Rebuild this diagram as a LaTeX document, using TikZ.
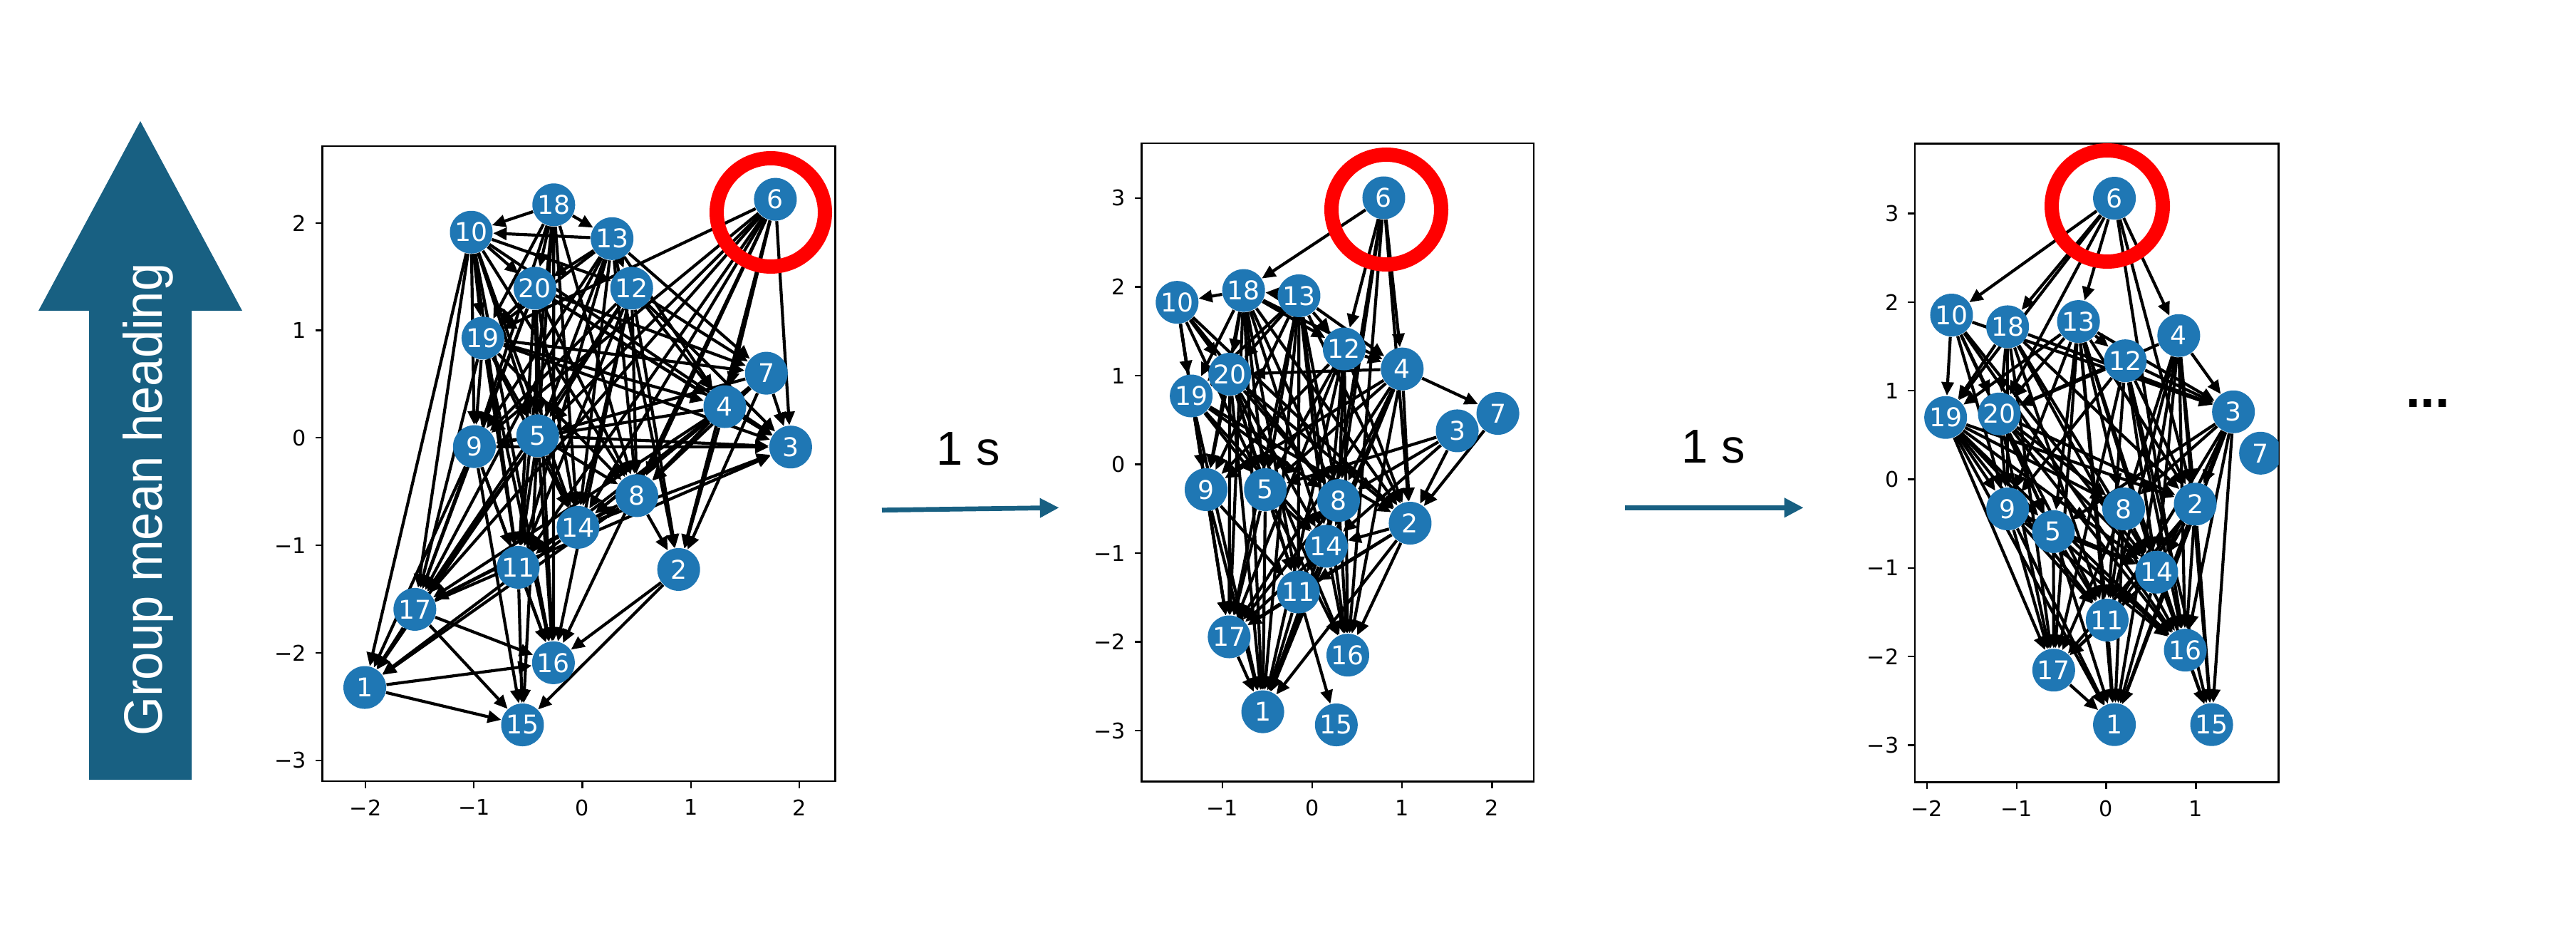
\documentclass[tikz,border=0pt]{standalone}
\usepackage{fontspec}
\usepackage{graphicx}
\setmainfont{Liberation Sans}
\newfontfamily\dvs{DejaVu Sans}
\usetikzlibrary{arrows.meta}
\pgfdeclarelayer{bglayer}
\pgfdeclarelayer{edgelayer}
\pgfsetlayers{bglayer,edgelayer,main}
\definecolor{nodeblue}{HTML}{1F77B4}
\definecolor{headblue}{RGB}{24,96,130}
\tikzset{
  gnode/.style={circle, fill=nodeblue, inner sep=0pt, minimum size=0.6cm, text=white, font=\dvs\fontsize{10.3}{12}\selectfont},
  edge/.style={-{Triangle[length=0.19cm,width=0.17cm]}, line width=0.042cm, black},
  axframe/.style={line width=0.025cm, black},
  axtick/.style={line width=0.022cm, black},
  ticklab/.style={font=\dvs\fontsize{8.6}{10}\selectfont, inner sep=0pt, text=black},
  ring/.style={draw=red, line width=0.2cm},
  flow/.style={draw=headblue, line width=0.067cm, -{Triangle[length=0.27cm,width=0.26cm]}},
  steplab/.style={font=\fontsize{19}{22}\selectfont, inner sep=0pt, anchor=base},
}
\begin{document}
\begin{tikzpicture}
\useasboundingbox (0,0) rectangle (36.16,13.01);
\begin{pgfonlayer}{bglayer}
\fill[white] (0,0) rectangle (36.16,13.01);
\end{pgfonlayer}

% big arrow
\fill[headblue] (1.97,11.31) -- (3.40,8.65) -- (2.69,8.65) -- (2.69,2.07) -- (1.25,2.07) -- (1.25,8.65) -- (0.54,8.65) -- cycle;
\node[rotate=90, anchor=base, inner sep=0pt, text=white, font=\fontsize{21.6}{24}\selectfont] (gmh) at (2.27,6.00) {\scalebox{0.93}[1]{Group mean heading}};

% ---------------- panel 1 ----------------
\begin{scope}[shift={(8.175cm,6.866cm)}, x=1.522cm, y=1.508cm]
  \draw[axframe] (-2.397,-3.195) rectangle (2.332,2.714);
  \foreach \t/\l [count=\i] in {-2/−2,-1/−1,0/0,1/1,2/2} {
    \draw[axtick] (\t,-3.195) -- ++(0,-0.1cm);
    \node[ticklab, anchor=north, yshift=-0.25cm] (pax\i) at (\t,-3.195) {\l};
  }
  \foreach \t/\l [count=\i] in {-3/−3,-2/−2,-1/−1,0/0,1/1,2/2} {
    \draw[axtick] (-2.397,\t) -- ++(-0.1cm,0);
    \node[ticklab, anchor=east, xshift=-0.22cm] (pay\i) at (-2.397,\t) {\l};
  }
  \node[gnode] (a6) at (1.78,2.22) {6};
  \node[gnode] (a18) at (-0.264,2.169) {18};
  \node[gnode] (a10) at (-1.025,1.914) {10};
  \node[gnode] (a13) at (0.274,1.854) {13};
  \node[gnode] (a20) at (-0.437,1.393) {20};
  \node[gnode] (a12) at (0.455,1.393) {12};
  \node[gnode] (a19) at (-0.917,0.929) {19};
  \node[gnode] (a7) at (1.697,0.602) {7};
  \node[gnode] (a4) at (1.314,0.291) {4};
  \node[gnode] (a9) at (-0.996,-0.081) {9};
  \node[gnode] (a5) at (-0.412,0.020) {5};
  \node[gnode] (a3) at (1.921,-0.085) {3};
  \node[gnode] (a8) at (0.502,-0.537) {8};
  \node[gnode] (a14) at (-0.040,-0.832) {14};
  \node[gnode] (a11) at (-0.592,-1.204) {11};
  \node[gnode] (a2) at (0.888,-1.224) {2};
  \node[gnode] (a17) at (-1.545,-1.595) {17};
  \node[gnode] (a16) at (-0.267,-2.092) {16};
  \node[gnode] (a1) at (-2.007,-2.322) {1};
  \node[gnode] (a15) at (-0.552,-2.670) {15};
\end{scope}

% ---------------- panel 2 ----------------
\begin{scope}[shift={(18.42cm,6.495cm)}, x=1.262cm, y=1.245cm]
  \draw[axframe] (-1.896,-3.574) rectangle (2.464,3.618);
  \foreach \t/\l [count=\i] in {-1/−1,0/0,1/1,2/2} {
    \draw[axtick] (\t,-3.574) -- ++(0,-0.1cm);
    \node[ticklab, anchor=north, yshift=-0.25cm] (pbx\i) at (\t,-3.574) {\l};
  }
  \foreach \t/\l [count=\i] in {-3/−3,-2/−2,-1/−1,0/0,1/1,2/2,3/3} {
    \draw[axtick] (-1.896,\t) -- ++(-0.1cm,0);
    \node[ticklab, anchor=east, xshift=-0.22cm] (pby\i) at (-1.896,\t) {\l};
  }
  \node[gnode] (b6) at (0.796,3.004) {6};
  \node[gnode] (b10) at (-1.503,1.826) {10};
  \node[gnode] (b18) at (-0.763,1.959) {18};
  \node[gnode] (b13) at (-0.147,1.900) {13};
  \node[gnode] (b12) at (0.356,1.301) {12};
  \node[gnode] (b4) at (1.001,1.075) {4};
  \node[gnode] (b20) at (-0.917,1.016) {20};
  \node[gnode] (b19) at (-1.346,0.771) {19};
  \node[gnode] (b7) at (2.065,0.574) {7};
  \node[gnode] (b3) at (1.613,0.378) {3};
  \node[gnode] (b9) at (-1.181,-0.285) {9};
  \node[gnode] (b5) at (-0.521,-0.285) {5};
  \node[gnode] (b8) at (0.293,-0.407) {8};
  \node[gnode] (b2) at (1.089,-0.663) {2};
  \node[gnode] (b14) at (0.158,-0.923) {14};
  \node[gnode] (b11) at (-0.154,-1.438) {11};
  \node[gnode] (b17) at (-0.924,-1.944) {17};
  \node[gnode] (b16) at (0.396,-2.150) {16};
  \node[gnode] (b1) at (-0.550,-2.788) {1};
  \node[gnode] (b15) at (0.268,-2.936) {15};
\end{scope}

% ---------------- panel 3 ----------------
\begin{scope}[shift={(29.565cm,6.285cm)}, x=1.259cm, y=1.243cm]
  \draw[axframe] (-2.132,-3.419) rectangle (1.923,3.788);
  \foreach \t/\l [count=\i] in {-2/−2,-1/−1,0/0,1/1} {
    \draw[axtick] (\t,-3.419) -- ++(0,-0.1cm);
    \node[ticklab, anchor=north, yshift=-0.25cm] (pcx\i) at (\t,-3.419) {\l};
  }
  \foreach \t/\l [count=\i] in {-3/−3,-2/−2,-1/−1,0/0,1/1,2/2,3/3} {
    \draw[axtick] (-2.132,\t) -- ++(-0.1cm,0);
    \node[ticklab, anchor=east, xshift=-0.22cm] (pcy\i) at (-2.132,\t) {\l};
  }
  \begin{scope}
  \clip (-2.132,-3.419) rectangle (1.923,3.788);
  \node[gnode] (c6) at (0.092,3.173) {6};
  \node[gnode] (c10) at (-1.724,1.854) {10};
  \node[gnode] (c18) at (-1.099,1.722) {18};
  \node[gnode] (c13) at (-0.309,1.781) {13};
  \node[gnode] (c4) at (0.809,1.623) {4};
  \node[gnode] (c12) at (0.213,1.338) {12};
  \node[gnode] (c3) at (1.419,0.762) {3};
  \node[gnode] (c19) at (-1.790,0.698) {19};
  \node[gnode] (c20) at (-1.191,0.738) {20};
  \node[gnode] (c7) at (1.721,0.295) {7};
  \node[gnode] (c9) at (-1.099,-0.334) {9};
  \node[gnode] (c8) at (0.195,-0.334) {8};
  \node[gnode] (c2) at (0.993,-0.280) {2};
  \node[gnode] (c5) at (-0.588,-0.590) {5};
  \node[gnode] (c14) at (0.563,-1.048) {14};
  \node[gnode] (c11) at (0.011,-1.589) {11};
  \node[gnode] (c16) at (0.882,-1.928) {16};
  \node[gnode] (c17) at (-0.585,-2.154) {17};
  \node[gnode] (c1) at (0.092,-2.769) {1};
  \node[gnode] (c15) at (1.176,-2.769) {15};
  \end{scope}
\end{scope}

% ---------------- edges (under nodes) ----------------
\begin{pgfonlayer}{edgelayer}
  \foreach \s/\t in {6/3,6/2,6/4,6/8,6/14,6/5,6/9,6/11,6/17,6/19,6/16,
     10/19,10/9,10/17,10/1,10/20,10/5,10/11,10/14,10/8,10/12,10/16,10/3,
     18/10,18/13,18/20,18/16,18/5,18/8,18/14,18/11,18/19,18/9,
     13/10,13/12,13/20,13/4,13/7,13/5,13/9,13/17,13/14,13/11,13/2,13/8,13/19,
     12/7,12/4,12/3,12/2,12/8,12/14,12/11,12/17,12/9,12/5,12/16,
     20/19,20/9,20/5,20/17,20/16,20/8,20/14,20/11,20/3,20/7,20/4,
     19/9,19/17,19/11,19/8,19/3,19/7,19/4,19/14,19/5,19/16,
     7/3,7/2,7/8,7/5,7/14,
     4/3,4/2,4/8,4/14,4/11,4/17,4/9,
     5/9,5/3,5/8,5/14,5/11,5/17,5/16,5/15,5/1,
     9/17,9/15,9/11,9/3,9/16,9/1,
     8/2,8/17,8/1,
     14/8,14/17,14/1,14/3,
     11/16,11/15,2/16,2/15,
     17/1,17/16,17/15,17/3,
     1/16,1/15}
    \draw[edge] (a\s) -- (a\t);
  \foreach \s/\t in {6/4,6/18,6/12,6/2,6/8,6/14,6/16,
     10/19,10/20,10/5,10/8,10/2,10/17,10/9,
     18/10,18/20,18/19,18/9,18/5,18/17,18/1,18/8,18/14,18/11,18/2,18/4,18/12,
     13/18,13/12,13/4,13/20,13/19,13/5,13/8,13/14,13/11,13/16,13/17,13/1,13/2,13/9,
     12/4,12/2,12/8,12/14,12/16,12/1,12/17,12/5,12/9,
     4/7,4/2,4/8,4/14,4/16,4/5,4/9,4/17,4/1,4/20,
     20/19,20/9,20/5,20/17,20/1,20/8,20/14,20/2,20/16,20/11,
     19/9,19/17,19/1,19/5,19/8,19/2,19/14,
     3/2,3/8,3/5,3/14,7/2,
     9/17,9/1,9/11,
     5/17,5/1,5/14,5/16,5/11,
     8/17,8/1,8/16,8/11,
     2/14,2/1,2/16,2/17,2/11,
     14/17,14/1,14/16,
     11/15,11/1,11/17,17/1}
    \draw[edge] (b\s) -- (b\t);
  \foreach \s/\t in {6/10,6/18,6/13,6/4,6/19,6/20,6/2,6/16,
     10/19,10/20,10/9,10/5,10/3,10/14,10/16,
     18/19,18/20,18/9,18/17,18/3,18/2,18/14,18/11,18/16,
     13/12,13/19,13/20,13/9,13/17,13/5,13/8,13/11,13/1,13/14,13/16,13/3,13/2,
     4/3,4/20,4/8,4/14,4/11,4/1,4/2,4/16,4/15,
     12/20,12/3,12/2,12/14,12/16,12/11,12/9,12/17,12/15,
     3/2,3/8,3/14,3/5,3/11,3/15,3/16,3/1,
     19/9,19/5,19/17,19/11,19/14,19/16,19/8,19/2,19/1,
     20/9,20/5,20/17,20/14,20/11,20/16,20/2,20/8,
     9/17,9/5,9/11,9/14,9/1,9/16,
     8/11,8/17,8/1,8/14,
     2/16,2/15,2/11,2/1,2/17,2/14,
     5/17,5/11,5/1,5/16,5/14,
     14/11,14/1,14/17,14/15,
     11/1,11/17,17/1,16/15}
    \draw[edge] (c\s) -- (c\t);
\end{pgfonlayer}

% red rings
\draw[ring] (10.82,10.03) circle [radius=0.76cm];
\draw[ring] (19.46,10.07) circle [radius=0.77cm];
\draw[ring] (29.58,10.12) circle [radius=0.78cm];

% time steps
\coordinate (f1s) at (12.38,5.853);
\coordinate (f1e) at (14.867,5.887);
\draw[flow] (f1s) -- (f1e);
\node[steplab] (s1) at (13.595,6.483) {1 s};
\coordinate (f2s) at (22.807,5.887);
\coordinate (f2e) at (25.317,5.887);
\draw[flow] (f2s) -- (f2e);
\node[steplab] (s2) at (24.055,6.51) {1 s};

\node[font=\bfseries\fontsize{21}{24}\selectfont, anchor=base, inner sep=0pt] (dots) at (34.08,7.29) {...};
\end{tikzpicture}
\end{document}
